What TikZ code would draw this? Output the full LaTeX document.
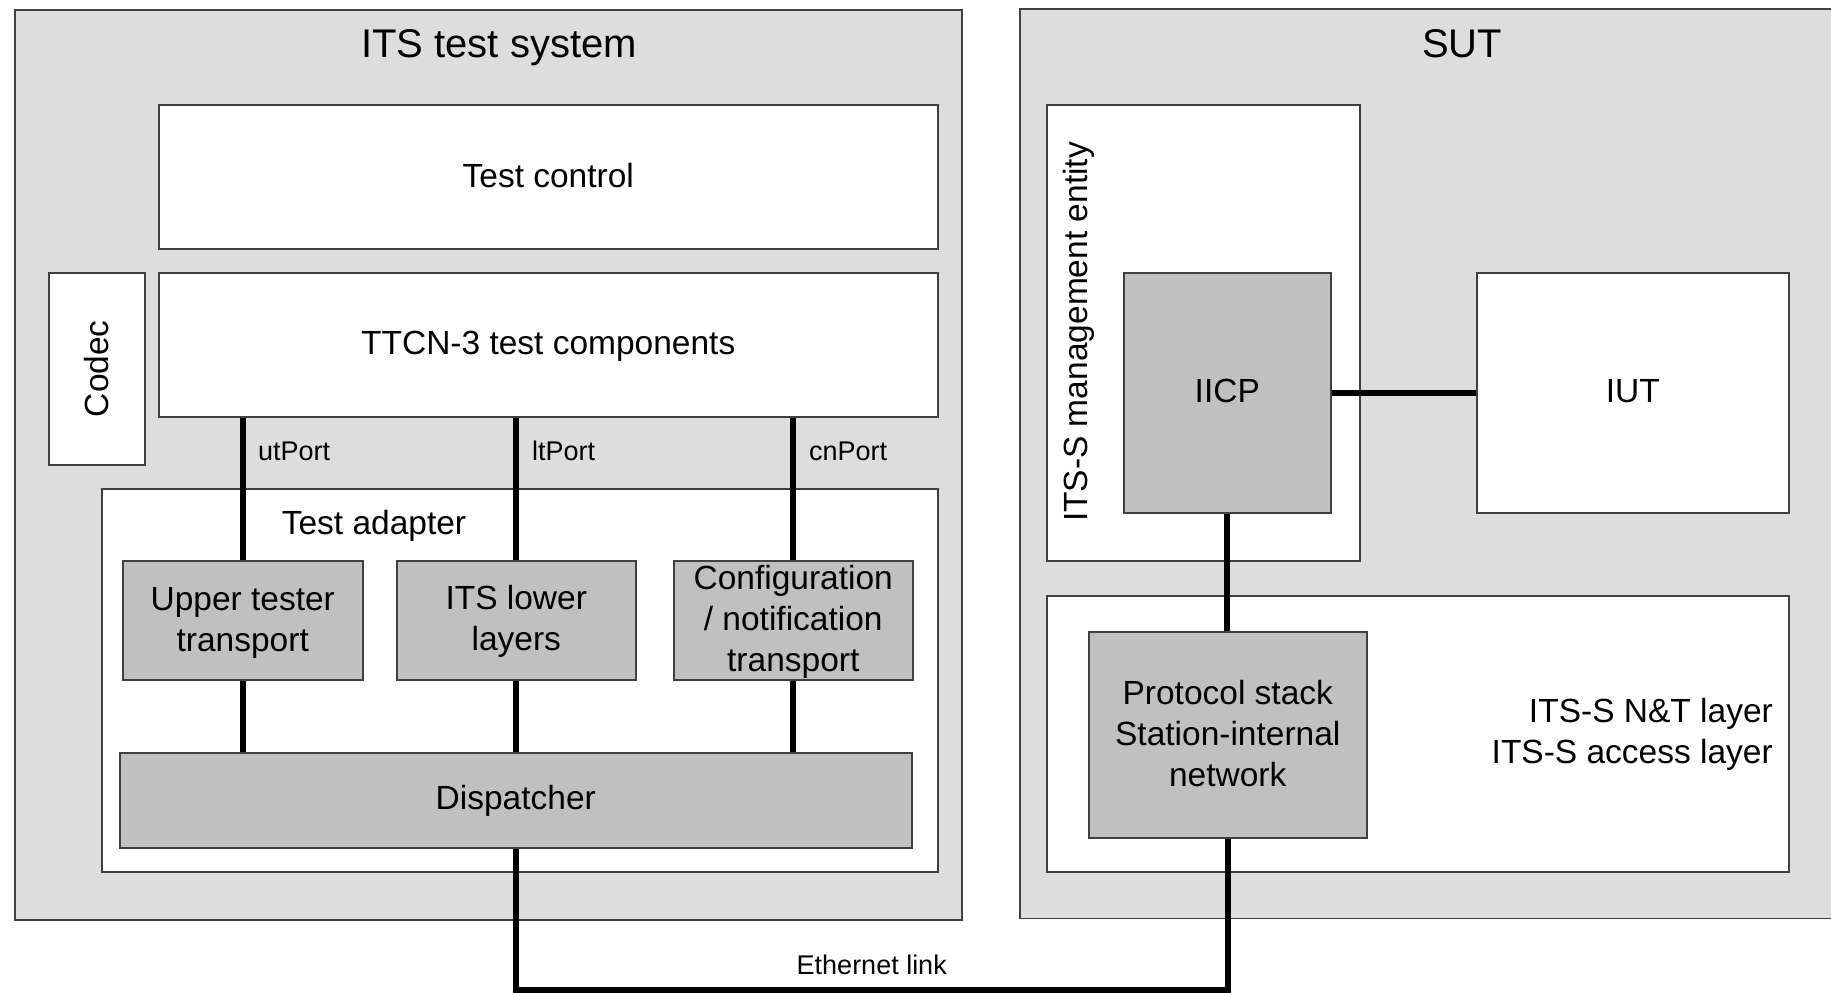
\documentclass[tikz,border=0pt]{standalone}
\usepackage{fontspec}
\setmainfont{Liberation Sans}
\usetikzlibrary{calc}
\begin{document}
\begin{tikzpicture}[x=1pt,y=-1pt,
  frame/.style={draw=black!75, line width=1.5pt, inner sep=0pt, anchor=north west},
  outerbox/.style={frame, fill=outergray},
  whitebox/.style={frame, fill=white},
  graybox/.style={frame, fill=innergray, align=center},
  txt/.style={font=\fontsize{33.5}{41}\selectfont, align=center, inner sep=0pt},
  ttl/.style={font=\fontsize{40}{48}\selectfont, inner sep=0pt, anchor=base},
  small/.style={font=\fontsize{27}{32}\selectfont, inner sep=0pt},
  wire/.style={line width=6pt, black}
]
\definecolor{outergray}{HTML}{DDDDDD}
\definecolor{innergray}{HTML}{C0C0C0}
\useasboundingbox (0,0) rectangle (1831,993);
\fill[white] (0,0) rectangle (1831,993);

% ITS test system
\node[outerbox, minimum width=947, minimum height=910] (its) at (14,9) {};
\node[ttl] (itstitle) at (499,57) {ITS test system};

% SUT (open to the right)
\node[fill=outergray, inner sep=0pt, anchor=north west, minimum width=812, minimum height=909] (sut) at (1020,9) {};
\draw[draw=black!75, line width=1.5pt] (sut.north east) -- (sut.north west) -- (sut.south west) -- (sut.south east);
\node[ttl] (suttitle) at (1462,57) {SUT};

% left side
\node[whitebox, minimum width=779, minimum height=144] (tc) at (158,104) {};
\node[txt] at ($(tc.center)+(0,-1)$) {Test control};
\node[whitebox, minimum width=96, minimum height=192] (codec) at (48,272) {};
\node[txt, rotate=90] at (codec.center) {Codec};
\node[whitebox, minimum width=779, minimum height=144] (ttcn) at (158,272) {};
\node[txt] at ($(ttcn.center)+(0,1.5)$) {TTCN-3 test components};
\node[whitebox, minimum width=836, minimum height=383] (adapter) at (101,488) {};
\node[txt] (adlabel) at (374,525.5) {Test adapter};
\node[graybox, minimum width=240, minimum height=119] (upper) at (122,560) {};
\node[txt] at ($(upper.center)+(0,2.5)$) {Upper tester\\transport};
\node[graybox, minimum width=239, minimum height=119] (lower) at (396,560) {};
\node[txt] at ($(lower.center)+(0,1.2)$) {ITS lower\\layers};
\node[graybox, minimum width=239, minimum height=119] (config) at (673,560) {};
\node[txt] at ($(config.center)+(0,1.5)$) {Configuration\\/ notification\\transport};
\node[graybox, minimum width=792, minimum height=95] (disp) at (119,752) {};
\node[txt] at ($(disp.center)+(0,0.5)$) {Dispatcher};

% right side
\node[whitebox, minimum width=313, minimum height=456] (mgmt) at (1046,104) {};
\node[txt, rotate=90] (mgmtlabel) at (1079,332) {ITS-S management entity};
\node[graybox, minimum width=207, minimum height=240] (iicp) at (1123,272) {};
\node[txt] at ($(iicp.center)+(0,-2)$) {IICP};
\node[whitebox, minimum width=312, minimum height=240] (iut) at (1476,272) {};
\node[txt] at ($(iut.center)+(0,-2)$) {IUT};
\node[whitebox, minimum width=742, minimum height=276] (nt) at (1046,595) {};
\node[txt, align=right, anchor=east] (ntlabel) at (1773,734.5) {ITS-S N\&T layer\\ITS-S access layer};
\node[graybox, minimum width=278, minimum height=206] (proto) at (1088,631) {};
\node[txt] at ($(proto.center)+(0,-1.2)$) {Protocol stack\\Station-internal\\network};

% port wires
\draw[wire] (upper.north |- ttcn.south) -- (upper.north);
\draw[wire] (lower.north |- ttcn.south) -- (lower.north);
\draw[wire] (config.north |- ttcn.south) -- (config.north);
\draw[wire] (upper.south) -- (upper.south |- disp.north);
\draw[wire] (lower.south) -- (lower.south |- disp.north);
\draw[wire] (config.south) -- (config.south |- disp.north);
\node[small, anchor=west] (utp) at (258,451) {utPort};
\node[small, anchor=west] (ltp) at (532,451) {ltPort};
\node[small, anchor=west] (cnp) at (809,451) {cnPort};

% SUT wires
\draw[wire] (iicp.east) -- (iut.west);
\draw[wire] (iicp.south) -- (iicp.south |- proto.north);

% Ethernet link
\coordinate (ethl) at (disp.south |- 0,990);
\coordinate (ethr) at (proto.south |- 0,990);
\draw[line width=5.5pt, line join=miter] (disp.south) -- (ethl) -- (ethr) -- (proto.south);
\node[small] (ethlabel) at ($(ethl)!0.5!(ethr)+(0,-25)$) {Ethernet link};
\end{tikzpicture}
\end{document}
